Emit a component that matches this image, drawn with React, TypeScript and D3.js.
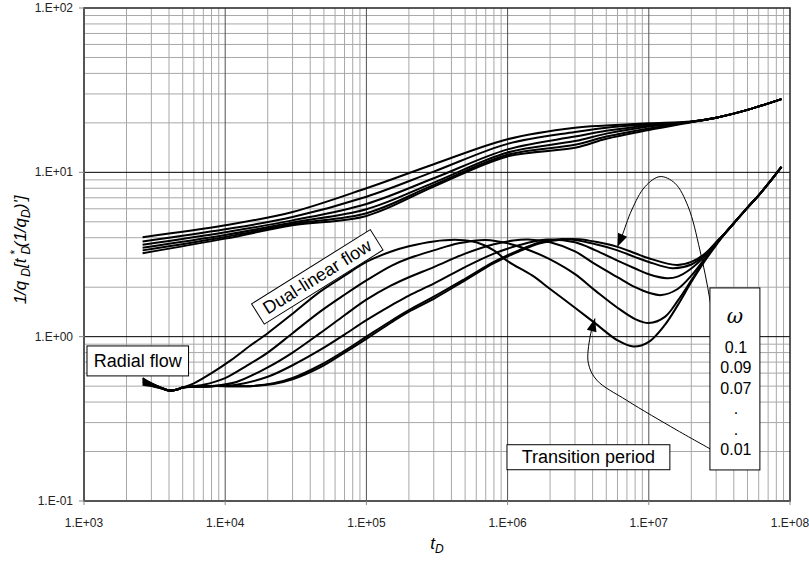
import React from "react";
import * as d3 from "d3";

// ---------- data ----------
const xTickLabels = ["1.E+03", "1.E+04", "1.E+05", "1.E+06", "1.E+07", "1.E+08"];
const yTickLabels = ["1.E-01", "1.E+00", "1.E+01", "1.E+02"];
const omegaLabels = ["0.1", "0.09", "0.07", ".", ".", "0.01"];

// upper family (1/qD), shared tD grid
const upperT = [2.6e3, 1e4, 3e4, 1e5, 3e5, 1e6, 3e6, 5e6, 1e7, 2e7, 3e7, 5e7, 8.7e7];
const upperW001 = [4.03, 4.76, 5.74, 8.0, 11.2, 15.9, 18.7, 19.3, 19.9, 20.4, 21.5, 24.0, 27.9];
const upperW003 = [3.8, 4.5, 5.35, 7.11, 10.1, 14.9, 17.6, 18.7, 19.6, 20.3, 21.5, 24.0, 27.9];
const upperW005 = [3.62, 4.32, 5.1, 6.42, 9.2, 13.8, 16.5, 17.9, 19.3, 20.3, 21.5, 24.0, 27.9];
const upperW007 = [3.48, 4.16, 4.95, 5.96, 8.66, 13.2, 15.5, 17.2, 19.0, 20.3, 21.5, 24.0, 27.9];
const upperW009 = [3.35, 4.04, 4.85, 5.64, 8.38, 12.8, 14.7, 16.5, 18.5, 20.3, 21.5, 24.0, 27.9];
const upperW010 = [3.22, 3.95, 4.76, 5.43, 8.19, 12.5, 14.1, 16.0, 18.1, 20.2, 21.5, 24.0, 27.9];

// lower family (derivative), common late-time tail
const tailT = [4e7, 5e7, 6e7, 7e7, 8.7e7];
const tailV = [4.9, 6.1, 7.25, 8.5, 10.8];

const lowerW001T = [2.6e3, 3e3, 3.5e3, 4e3, 4.5e3, 5e3, 6e3, 8e3, 1.1e4, 1.5e4, 2e4, 3e4, 4.7e4, 7e4, 1e5, 1.5e5, 2e5, 3e5, 4.5e5, 6e5, 8e5, 1e6, 1.5e6, 2e6, 3e6, 4.2e6, 6e6, 7.8e6, 1e7, 1.3e7, 1.6e7, 2e7, 2.5e7, 3e7, 3.5e7];
const lowerW001V = [0.56, 0.52, 0.49, 0.47, 0.475, 0.49, 0.52, 0.6, 0.72, 0.88, 1.05, 1.38, 1.88, 2.35, 2.85, 3.3, 3.55, 3.8, 3.88, 3.75, 3.35, 2.88, 2.35, 1.95, 1.5, 1.2, 0.95, 0.87, 0.93, 1.18, 1.55, 2.15, 2.9, 3.6, 4.3];

const lowerW003T = [2.6e3, 3e3, 3.5e3, 4e3, 4.5e3, 5e3, 7e3, 1e4, 1.4e4, 2e4, 3e4, 4.7e4, 7e4, 1e5, 1.5e5, 2e5, 3e5, 4.5e5, 7e5, 1e6, 1.5e6, 2e6, 3e6, 4.2e6, 6e6, 8e6, 1e7, 1.3e7, 1.6e7, 2e7, 2.5e7, 3e7, 3.5e7];
const lowerW003V = [0.55, 0.52, 0.49, 0.47, 0.475, 0.49, 0.51, 0.56, 0.66, 0.8, 1.05, 1.42, 1.8, 2.2, 2.7, 3.0, 3.35, 3.7, 3.88, 3.7, 3.3, 2.95, 2.4, 1.9, 1.5, 1.28, 1.21, 1.32, 1.65, 2.2, 2.95, 3.65, 4.3];

const lowerW005T = [2.6e3, 3e3, 3.5e3, 4e3, 4.5e3, 5e3, 8e3, 1.2e4, 2e4, 3e4, 4.7e4, 7e4, 1e5, 1.5e5, 2e5, 3e5, 5e5, 8e5, 1.1e6, 1.4e6, 2e6, 3e6, 4.2e6, 6e6, 8e6, 1e7, 1.23e7, 1.6e7, 2e7, 2.5e7, 3e7, 3.5e7];
const lowerW005V = [0.54, 0.515, 0.49, 0.47, 0.475, 0.49, 0.5, 0.53, 0.65, 0.8, 1.05, 1.35, 1.68, 2.05, 2.3, 2.65, 3.2, 3.65, 3.85, 3.9, 3.75, 3.3, 2.75, 2.3, 2.0, 1.85, 1.79, 1.95, 2.35, 3.0, 3.7, 4.3];

const lowerW007T = [2.6e3, 3e3, 3.5e3, 4e3, 4.5e3, 5e3, 8e3, 1.2e4, 2e4, 3e4, 4.7e4, 7e4, 1e5, 1.5e5, 2e5, 3e5, 5e5, 8e5, 1.2e6, 1.9e6, 3e6, 4.2e6, 6e6, 8e6, 1e7, 1.34e7, 1.6e7, 2e7, 2.5e7, 3e7, 3.5e7];
const lowerW007V = [0.53, 0.51, 0.49, 0.47, 0.475, 0.49, 0.5, 0.51, 0.57, 0.67, 0.83, 1.03, 1.26, 1.55, 1.78, 2.1, 2.65, 3.2, 3.6, 3.9, 3.75, 3.35, 2.9, 2.6, 2.4, 2.27, 2.32, 2.6, 3.1, 3.75, 4.3];

const lowerW009T = [2.6e3, 3e3, 3.5e3, 4e3, 4.5e3, 5e3, 8e3, 1.5e4, 2.2e4, 3e4, 4.7e4, 7e4, 1e5, 1.5e5, 2e5, 3e5, 5e5, 8e5, 1.2e6, 1.7e6, 2.3e6, 3e6, 4.2e6, 6e6, 8e6, 1e7, 1.47e7, 2e7, 2.5e7, 3e7, 3.5e7];
const lowerW009V = [0.52, 0.505, 0.485, 0.47, 0.475, 0.49, 0.5, 0.5, 0.52, 0.56, 0.67, 0.82, 1.0, 1.25, 1.45, 1.75, 2.25, 2.85, 3.35, 3.75, 3.92, 3.88, 3.65, 3.35, 3.05, 2.85, 2.61, 2.75, 3.15, 3.75, 4.3];

const lowerW010T = [2.6e3, 3e3, 3.5e3, 4e3, 4.5e3, 5e3, 8e3, 1.5e4, 2.2e4, 3e4, 4.7e4, 7e4, 1e5, 1.5e5, 2e5, 3e5, 5e5, 8e5, 1.2e6, 1.7e6, 2.6e6, 3.2e6, 4.2e6, 6e6, 8e6, 1e7, 1.58e7, 2e7, 2.5e7, 3e7, 3.5e7];
const lowerW010V = [0.51, 0.5, 0.485, 0.47, 0.475, 0.49, 0.5, 0.5, 0.515, 0.55, 0.65, 0.8, 0.97, 1.22, 1.42, 1.7, 2.2, 2.8, 3.3, 3.7, 3.92, 3.92, 3.78, 3.52, 3.22, 3.0, 2.73, 2.85, 3.2, 3.75, 4.3];

// annotation anchor points (data coordinates)
const arrowUpT = [3.0e7, 2.71e7, 2.3e7, 1.9e7, 1.53e7, 1.2e7, 9.4e6, 7.57e6, 6.43e6, 6.0e6];
const arrowUpV = [0.87, 1.67, 3.37, 6.18, 8.59, 9.42, 8.18, 5.9, 4.06, 3.53];
const arrowLowT = [2.94e7, 1.58e7, 6.97e6, 4.28e6, 3.73e6, 3.84e6, 4.16e6];
const arrowLowV = [0.2, 0.27, 0.41, 0.544, 0.69, 1.0, 1.29];

const W = 809;
const H = 561;
const M = { left: 84, right: 790, top: 8, bottom: 501 };
const FONT = "'Liberation Sans', Arial, sans-serif";

export default function App() {
  const x = d3.scaleLog().domain([1e3, 1e8]).range([M.left, M.right]);
  const y = d3.scaleLog().domain([0.1, 100]).range([M.bottom, M.top]);
  const line = d3
    .line<[number, number]>()
    .x((d) => x(d[0]))
    .y((d) => y(d[1]))
    .curve(d3.curveCatmullRom.alpha(0.5));

  const zip = (ts: number[], vs: number[]) => ts.map((t, i) => [t, vs[i]] as [number, number]);

  const upper = [upperW001, upperW003, upperW005, upperW007, upperW009, upperW010].map((v) => zip(upperT, v));
  const lower = [
    [lowerW001T, lowerW001V],
    [lowerW003T, lowerW003V],
    [lowerW005T, lowerW005V],
    [lowerW007T, lowerW007V],
    [lowerW009T, lowerW009V],
    [lowerW010T, lowerW010V],
  ].map(([t, v]) => zip(t.concat(tailT), v.concat(tailV)));

  const xDecades = [1e3, 1e4, 1e5, 1e6, 1e7, 1e8];
  const yDecades = [0.1, 1, 10, 100];
  const xMinor: number[] = [];
  xDecades.slice(0, -1).forEach((d) => {
    for (let k = 2; k <= 9; k++) xMinor.push(d * k);
  });
  const yMinor: number[] = [];
  yDecades.slice(0, -1).forEach((d) => {
    for (let k = 2; k <= 9; k++) yMinor.push(d * k);
  });

  const arrowHead = (pts: [number, number][]) => {
    const n = pts.length;
    const [tx, ty] = [x(pts[n - 1][0]), y(pts[n - 1][1])];
    const [px, py] = [x(pts[n - 2][0]), y(pts[n - 2][1])];
    const ang = Math.atan2(ty - py, tx - px);
    const L = 13;
    const Wd = 5;
    const bx = tx - L * Math.cos(ang);
    const by = ty - L * Math.sin(ang);
    const p1 = [bx + Wd * Math.sin(ang), by - Wd * Math.cos(ang)];
    const p2 = [bx - Wd * Math.sin(ang), by + Wd * Math.cos(ang)];
    return `M${tx},${ty}L${p1[0]},${p1[1]}L${p2[0]},${p2[1]}Z`;
  };

  const upArrow = zip(arrowUpT, arrowUpV);
  const lowArrow = zip(arrowLowT, arrowLowV);

  // annotation boxes in data coords
  const boxRadial = { t0: 1.05e3, t1: 5.5e3, v0: 0.878, v1: 0.577 };
  const boxTrans = { t0: 9.9e5, t1: 1.41e7, v0: 0.22, v1: 0.155 };
  const boxOmega = { t0: 2.71e7, t1: 6.12e7, v0: 1.98, v1: 0.1545 };
  const dualCenter = { t: 4.49e4, v: 2.31 };

  const oy = y(boxOmega.v0);
  const ocx = (x(boxOmega.t0) + x(boxOmega.t1)) / 2;

  return (
    <svg width={W} height={H} style={{ position: "absolute", left: 0, top: 0, background: "#fff" }}>
      <rect x={0} y={0} width={W} height={H} fill="#fff" />
      {/* minor grid */}
      {xMinor.map((v, i) => (
        <line key={"xm" + i} x1={x(v)} x2={x(v)} y1={M.top} y2={M.bottom} stroke="#a8a8a8" strokeWidth={1} />
      ))}
      {yMinor.map((v, i) => (
        <line key={"ym" + i} x1={M.left} x2={M.right} y1={y(v)} y2={y(v)} stroke="#a8a8a8" strokeWidth={1} />
      ))}
      {/* major grid */}
      {xDecades.slice(1, -1).map((v, i) => (
        <line key={"xM" + i} x1={x(v)} x2={x(v)} y1={M.top} y2={M.bottom} stroke="#505050" strokeWidth={1} />
      ))}
      {yDecades.slice(1, -1).map((v, i) => (
        <line key={"yM" + i} x1={M.left} x2={M.right} y1={y(v)} y2={y(v)} stroke="#000" strokeWidth={1} />
      ))}
      {/* frame */}
      <rect x={M.left} y={M.top} width={M.right - M.left} height={M.bottom - M.top} fill="none" stroke="#222" strokeWidth={1.5} />
      <line x1={M.left} x2={M.left} y1={M.top} y2={M.bottom} stroke="#555" strokeWidth={2} />
      <line x1={M.left} x2={M.right} y1={M.bottom} y2={M.bottom} stroke="#555" strokeWidth={2} />

      {/* ticks */}
      {xDecades.map((v, i) => (
        <g key={"xt" + i}>
          <line x1={x(v)} x2={x(v)} y1={M.bottom} y2={M.bottom + 4} stroke="#888" />
          <text x={x(v)} y={527} fontSize={12} fontFamily={FONT} textAnchor="middle" fill="#222">
            {xTickLabels[i]}
          </text>
        </g>
      ))}
      {yDecades.map((v, i) => (
        <g key={"yt" + i}>
          <line x1={M.left - 5} x2={M.left} y1={y(v)} y2={y(v)} stroke="#888" />
          <text x={73} y={y(v) + 4} fontSize={12} fontFamily={FONT} textAnchor="end" fill="#222">
            {yTickLabels[i]}
          </text>
        </g>
      ))}

      {/* curves */}
      {upper.map((pts, i) => (
        <path key={"u" + i} d={line(pts) || ""} fill="none" stroke="#000" strokeWidth={2} />
      ))}
      {lower.map((pts, i) => (
        <path key={"l" + i} d={line(pts) || ""} fill="none" stroke="#000" strokeWidth={2} />
      ))}

      {/* arrows */}
      <path d={line(upArrow) || ""} fill="none" stroke="#000" strokeWidth={1} />
      <path d={arrowHead(upArrow)} fill="#000" />
      <path d={line(lowArrow) || ""} fill="none" stroke="#000" strokeWidth={1} />
      <path d={arrowHead(lowArrow)} fill="#000" />

      {/* Radial flow */}
      <rect
        x={x(boxRadial.t0)}
        y={y(boxRadial.v0)}
        width={x(boxRadial.t1) - x(boxRadial.t0)}
        height={y(boxRadial.v1) - y(boxRadial.v0)}
        fill="#fff"
        stroke="#000"
        strokeWidth={1}
      />
      <text x={(x(boxRadial.t0) + x(boxRadial.t1)) / 2} y={(y(boxRadial.v0) + y(boxRadial.v1)) / 2 + 6} fontSize={18} fontFamily={FONT} textAnchor="middle">
        Radial flow
      </text>

      {/* Dual-linear flow */}
      <g transform={`translate(${x(dualCenter.t)},${y(dualCenter.v)}) rotate(-32)`}>
        <rect x={-70} y={-12} width={140} height={24} fill="#fff" stroke="#000" strokeWidth={1} />
        <text x={0} y={6} fontSize={18} fontFamily={FONT} textAnchor="middle">
          Dual-linear flow
        </text>
      </g>

      {/* Transition period */}
      <rect
        x={x(boxTrans.t0)}
        y={y(boxTrans.v0)}
        width={x(boxTrans.t1) - x(boxTrans.t0)}
        height={y(boxTrans.v1) - y(boxTrans.v0)}
        fill="#fff"
        stroke="#000"
        strokeWidth={1}
      />
      <text x={(x(boxTrans.t0) + x(boxTrans.t1)) / 2} y={(y(boxTrans.v0) + y(boxTrans.v1)) / 2 + 6} fontSize={18} fontFamily={FONT} textAnchor="middle">
        Transition period
      </text>

      {/* omega legend */}
      <rect
        x={x(boxOmega.t0)}
        y={oy}
        width={x(boxOmega.t1) - x(boxOmega.t0)}
        height={y(boxOmega.v1) - oy}
        fill="#fff"
        stroke="#000"
        strokeWidth={1}
      />
      <text x={ocx} y={oy + 35} fontSize={20} fontStyle="italic" fontFamily="'DejaVu Serif', 'Liberation Serif', serif" textAnchor="middle">
        ω
      </text>
      {omegaLabels.map((s, i) => (
        <text key={"om" + i} x={ocx + 1} y={oy + 65 + i * 20.5} fontSize={16} fontFamily={FONT} textAnchor="middle">
          {s}
        </text>
      ))}

      {/* axis titles */}
      <text x={437} y={549} fontSize={17} fontStyle="italic" fontFamily={FONT} textAnchor="middle">
        t<tspan fontSize={12} dy={4}>D</tspan>
      </text>
      <text transform="translate(26,250) rotate(-90)" fontSize={17} fontStyle="italic" fontFamily={FONT} textAnchor="middle">
        1/q<tspan fontSize={12} dy={4} dx={4}>D</tspan>
        <tspan dy={-4}>[t</tspan>
        <tspan fontSize={12} dy={4} dx={4}>D</tspan>
        <tspan fontSize={12} dy={-11} dx={-9}>*</tspan>
        <tspan dy={7} dx={3}>(1/q</tspan>
        <tspan fontSize={12} dy={4}>D</tspan>
        <tspan dy={-4}>)']</tspan>
      </text>
    </svg>
  );
}
